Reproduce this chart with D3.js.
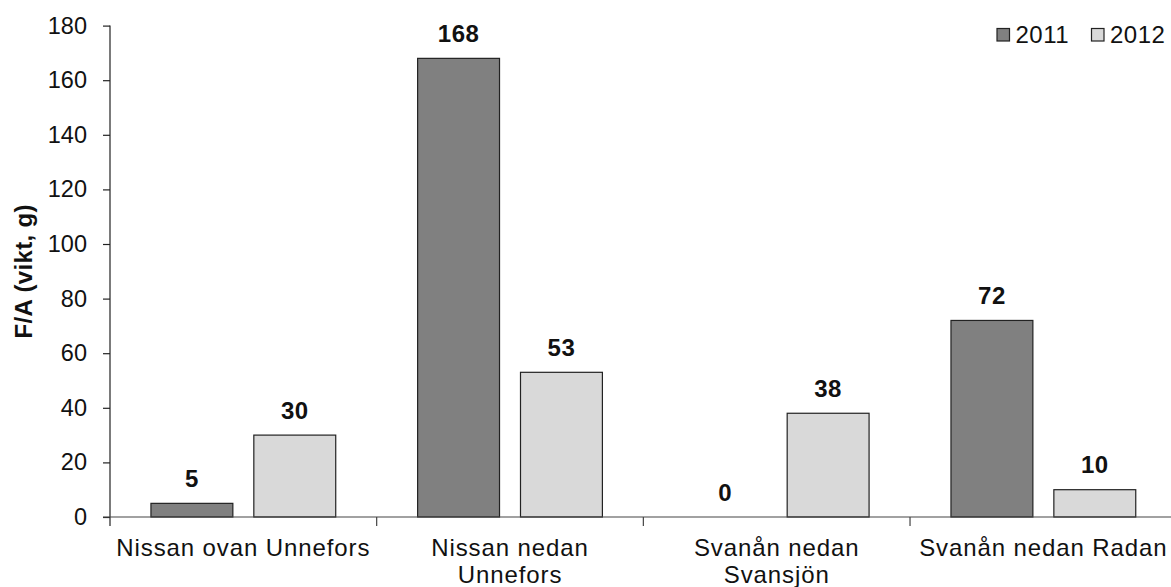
<!DOCTYPE html>
<html>
<head>
<meta charset="utf-8">
<script src="https://cdn.jsdelivr.net/npm/d3@7"></script>
<style>
  html, body { margin: 0; padding: 0; background: #fff; }
  svg { display: block; font-family: "Liberation Sans", Arial, sans-serif; }
</style>
</head>
<body>
<svg id="chart" width="1171" height="587"></svg>
<script>
const categories = ["Nissan ovan Unnefors", "Nissan nedan Unnefors", "Svanån nedan Svansjön", "Svanån nedan Radan"];
const categoryLines = [["Nissan ovan Unnefors"], ["Nissan nedan", "Unnefors"], ["Svanån nedan", "Svansjön"], ["Svanån nedan Radan"]];
const seriesNames = ["2011", "2012"];
const values2011 = [5, 168, 0, 72];
const values2012 = [30, 53, 38, 10];
const yTicks = [0, 20, 40, 60, 80, 100, 120, 140, 160, 180];
const yTitle = "F/A (vikt, g)";
const colors = ["#808080", "#d9d9d9"];

(function () {
const svg = d3.select("#chart");
const mLeft = 110, mRight = 1176.7, mTop = 25.6, mBottom = 517;

const x0 = d3.scaleBand().domain(categories).range([mLeft, mRight]).paddingInner(0).paddingOuter(0);
const x1 = d3.scaleBand().domain(seriesNames).range([0, x0.bandwidth()]).paddingInner(21 / 103).paddingOuter(0.398);
const y = d3.scaleLinear().domain([0, 180]).range([mBottom, mTop]);

const data = categories.map((c, i) => ({ cat: c, vals: [values2011[i], values2012[i]] }));

// bars
const groups = svg.append("g").selectAll("g").data(data).join("g")
  .attr("transform", d => `translate(${x0(d.cat)},0)`);
groups.selectAll("rect").data(d => d.vals.map((v, j) => ({ v, s: seriesNames[j], j })))
  .join("rect")
  .attr("x", d => x1(d.s))
  .attr("y", d => y(d.v))
  .attr("width", x1.bandwidth())
  .attr("height", d => y(0) - y(d.v))
  .attr("fill", d => colors[d.j])
  .attr("stroke", d => d.v > 0 ? "#222" : "none")
  .attr("stroke-width", 1.2);

// value labels
groups.selectAll("text.val").data(d => d.vals.map((v, j) => ({ v, s: seriesNames[j] })))
  .join("text")
  .attr("class", "val")
  .attr("x", d => x1(d.s) + x1.bandwidth() / 2)
  .attr("y", d => y(d.v) - 16.5)
  .attr("text-anchor", "middle")
  .attr("font-size", 24)
  .attr("font-weight", "bold")
  .attr("letter-spacing", 0.5)
  .attr("fill", "#111")
  .text(d => d.v);

// y axis
const yAxis = d3.axisLeft(y).tickValues(yTicks).tickSize(7).tickPadding(16);
const yg = svg.append("g").attr("transform", `translate(${mLeft},0)`).call(yAxis);
yg.select(".domain").remove();
yg.selectAll(".tick line").attr("stroke", "#222").attr("stroke-width", 1.2);
yg.selectAll(".tick text").attr("font-size", 23.5).attr("fill", "#111").attr("font-family", "Liberation Sans, Arial, sans-serif");
svg.append("line").attr("x1", mLeft).attr("x2", mLeft).attr("y1", y(180)).attr("y2", mBottom + 9)
  .attr("stroke", "#222").attr("stroke-width", 1.2);

// x axis line
svg.append("line").attr("x1", mLeft - 7).attr("x2", mRight).attr("y1", mBottom).attr("y2", mBottom)
  .attr("stroke", "#444").attr("stroke-width", 1.2);
// category boundary ticks
svg.append("g").selectAll("line").data(categories).join("line")
  .attr("x1", d => x0(d) + x0.bandwidth()).attr("x2", d => x0(d) + x0.bandwidth())
  .attr("y1", mBottom).attr("y2", mBottom + 9)
  .attr("stroke", "#444").attr("stroke-width", 1.2);

// category labels
const cl = svg.append("g").selectAll("text").data(categories).join("text")
  .attr("x", d => x0(d) + x0.bandwidth() / 2)
  .attr("y", 556)
  .attr("text-anchor", "middle")
  .attr("font-size", 24)
  .attr("letter-spacing", 0.9)
  .attr("fill", "#111");
cl.each(function (d, i) {
  d3.select(this).selectAll("tspan").data(categoryLines[i]).join("tspan")
    .attr("x", x0(d) + x0.bandwidth() / 2)
    .attr("dy", (t, k) => k === 0 ? 0 : 27)
    .text(t => t);
});

// y title
svg.append("text")
  .attr("transform", `translate(32,${(mTop + mBottom) / 2}) rotate(-90)`)
  .attr("text-anchor", "middle")
  .attr("font-size", 24)
  .attr("font-weight", "bold")
  .attr("letter-spacing", 0.35)
  .attr("fill", "#111")
  .text(yTitle);

// legend
const legendX = [997, 1091.5];
const lg = svg.append("g").selectAll("g").data(seriesNames).join("g")
  .attr("transform", (d, i) => `translate(${legendX[i]},28.5)`);
lg.append("rect").attr("width", 12.5).attr("height", 12.5)
  .attr("fill", (d, i) => colors[i]).attr("stroke", "#222").attr("stroke-width", 1.2);
lg.append("text").attr("x", 18.5).attr("y", 14.5).attr("font-size", 24).attr("letter-spacing", 0.5).attr("fill", "#111").text(d => d);
})();
</script>
</body>
</html>
